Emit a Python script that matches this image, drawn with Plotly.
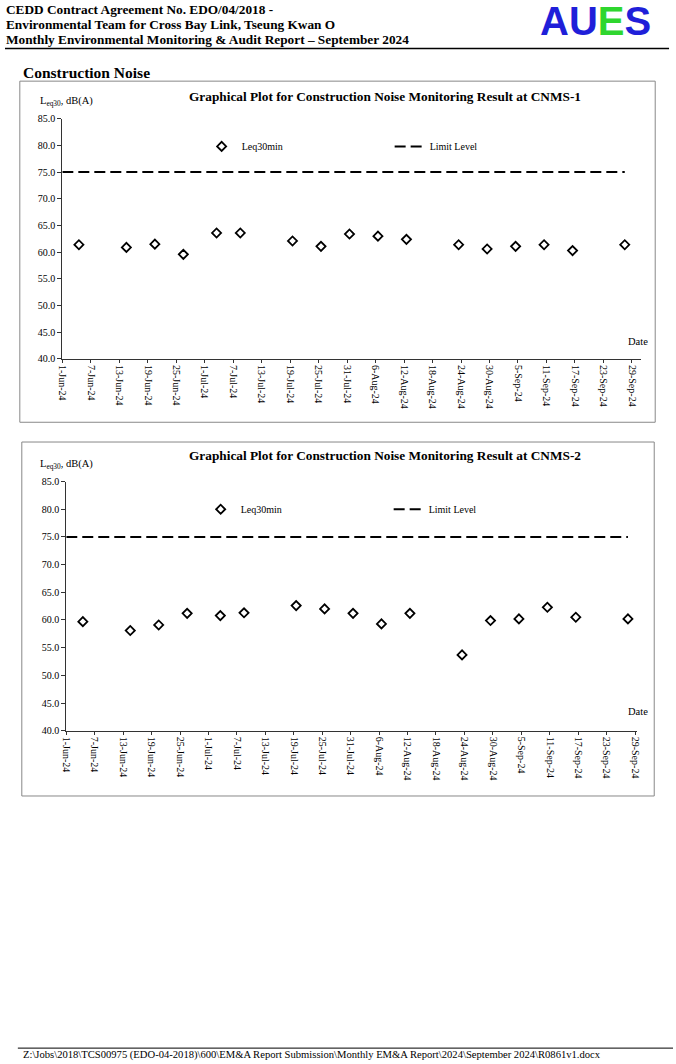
import plotly.graph_objects as go

W, H = 676, 1064

# ---------------- data ----------------
dates = ["2024-06-04 12:00", "2024-06-14 12:00", "2024-06-20 12:00", "2024-06-26 12:00",
         "2024-07-03 12:00", "2024-07-08 12:00", "2024-07-19 12:00", "2024-07-25 12:00",
         "2024-07-31 12:00", "2024-08-06 12:00", "2024-08-12 12:00", "2024-08-23 12:00",
         "2024-08-29 12:00", "2024-09-04 12:00", "2024-09-10 12:00", "2024-09-16 12:00",
         "2024-09-27 12:00"]
cnms1 = [61.4, 60.9, 61.5, 59.6, 63.6, 63.6, 62.1, 61.1, 63.4, 63.0, 62.4,
         61.4, 60.6, 61.1, 61.4, 60.3, 61.4]
cnms2 = [59.7, 58.1, 59.1, 61.2, 60.8, 61.3, 62.6, 62.0, 61.2, 59.3, 61.2,
         53.7, 59.9, 60.2, 62.3, 60.5, 60.2]
limit_dates = ["2024-06-01", "2024-09-27 12:00"]
limit_level = [75, 75]
stations = ["CNMS-1", "CNMS-2"]

SERIF = "Liberation Serif, Times New Roman, serif"

def px(x):
    return x / W

def py(y):
    return 1 - y / H

fig = go.Figure()

for i, (vals, leg) in enumerate([(cnms1, "legend"), (cnms2, "legend2")]):
    xa = "x" if i == 0 else "x2"
    ya = "y" if i == 0 else "y2"
    fig.add_trace(go.Scatter(
        x=dates, y=vals, mode="markers", name="Leq30min", legend=leg,
        xaxis=xa, yaxis=ya,
        marker=dict(symbol="diamond-open", size=7, color="black",
                    line=dict(width=1.8, color="black")),
    ))
    fig.add_trace(go.Scatter(
        x=limit_dates, y=limit_level, mode="lines", name="Limit Level", legend=leg,
        xaxis=xa, yaxis=ya,
        line=dict(color="black", width=2, dash="11px,5px"),
    ))

xcommon = dict(type="date", tick0="2024-06-01", dtick=6 * 86400000,
               tickformat="%-d-%b-%y", tickangle=90, ticks="outside", ticklen=3,
               tickcolor="#333", showline=True, linecolor="#333", linewidth=1,
               showgrid=False, zeroline=False,
               tickfont=dict(family=SERIF, size=10, color="black"))
ycommon = dict(range=[40, 85], dtick=5, tickformat=".1f", ticks="outside", ticklen=4,
               tickcolor="#333", showline=True, linecolor="#333", linewidth=1,
               showgrid=False, zeroline=False,
               tickfont=dict(family=SERIF, size=10, color="black"))

fig.update_layout(
    width=W, height=H, margin=dict(l=0, r=0, t=0, b=0),
    paper_bgcolor="white", plot_bgcolor="white",
    xaxis=dict(xcommon, domain=[px(58), px(644)], range=["2024-06-01", "2024-10-01"],
               anchor="y"),
    yaxis=dict(ycommon, domain=[py(357), py(114)], anchor="x"),
    xaxis2=dict(xcommon, domain=[px(62), px(640)],
                range=["2024-06-01", "2024-09-29 12:00"], anchor="y2"),
    yaxis2=dict(ycommon, domain=[py(733), py(481)], anchor="x2"),
    legend=dict(orientation="h", x=px(199), y=py(142), xanchor="left", yanchor="middle",
                entrywidth=143, bgcolor="rgba(0,0,0,0)",
                font=dict(family=SERIF, size=10, color="black")),
    legend2=dict(orientation="h", x=px(198), y=py(509), xanchor="left", yanchor="middle",
                 entrywidth=143, bgcolor="rgba(0,0,0,0)",
                 font=dict(family=SERIF, size=10, color="black")),
    showlegend=True,
)

ann = []
# header
header = ["CEDD Contract Agreement No. EDO/04/2018 -",
          "Environmental Team for Cross Bay Link, Tseung Kwan O",
          "Monthly Environmental Monitoring &amp; Audit Report \u2013 September 2024"]
for k, t in enumerate(header):
    ann.append(dict(text="<b>" + t + "</b>", x=0, y=py(4 + 15 * k), xref="paper",
                    yref="paper", xanchor="left", yanchor="middle", showarrow=False,
                    borderpad=0, font=dict(family=SERIF, size=13.3, color="black")))
ann.append(dict(text="<b><span style='color:#1f1fd9'>AU</span><span style='color:#2fd62f'>E</span>"
                     "<span style='color:#1f1fd9'>S</span></b>",
                x=px(598), y=py(15), xref="paper", yref="paper", xanchor="center",
                yanchor="middle", showarrow=False,
                font=dict(family="Liberation Sans, Arial, sans-serif", size=40)))
ann.append(dict(text="<b>Construction Noise</b>", x=px(16), y=py(67), xref="paper",
                yref="paper", xanchor="left", yanchor="middle", showarrow=False,
                font=dict(family=SERIF, size=15.5, color="black")))
# chart texts
for st, ty, yl, dy in [(stations[0], 92, 97, 339), (stations[1], 455, 464, 714)]:
    ann.append(dict(text="<b>Graphical Plot for Construction Noise Monitoring Result at " + st + "</b>",
                    x=px(385), y=py(ty), xref="paper", yref="paper", xanchor="center",
                    yanchor="middle", showarrow=False,
                    font=dict(family=SERIF, size=13.3, color="black")))
    ann.append(dict(text="L<sub>eq30</sub>, dB(A)", x=px(33), y=py(yl), xref="paper",
                    yref="paper", xanchor="left", yanchor="middle", showarrow=False,
                    font=dict(family=SERIF, size=10.5, color="black")))
    ann.append(dict(text="Date", x=px(641), y=py(dy), xref="paper", yref="paper",
                    xanchor="center", yanchor="middle", showarrow=False,
                    font=dict(family=SERIF, size=10.5, color="black")))
# footer
ann.append(dict(text="Z:\\Jobs\\2018\\TCS00975 (EDO-04-2018)\\600\\EM&amp;A Report Submission\\"
                     "Monthly EM&amp;A Report\\2024\\September 2024\\R0861v1.docx",
                x=px(17), y=py(1061), xref="paper", yref="paper", xanchor="left",
                yanchor="middle", showarrow=False, borderpad=0,
                font=dict(family=SERIF, size=10.6, color="black")))
fig.update_layout(annotations=ann)

shapes = [
    dict(type="line", xref="paper", yref="paper", x0=0, x1=px(672), y0=py(43), y1=py(43),
         line=dict(color="black", width=1.5)),
    dict(type="rect", xref="paper", yref="paper", x0=px(15), x1=px(658), y0=py(76), y1=py(421),
         line=dict(color="#888", width=1)),
    dict(type="rect", xref="paper", yref="paper", x0=px(17), x1=px(657), y0=py(441), y1=py(799),
         line=dict(color="#888", width=1)),
    dict(type="line", xref="paper", yref="paper", x0=px(13), x1=1, y0=py(1054), y1=py(1054),
         line=dict(color="black", width=1)),
]
fig.update_layout(shapes=shapes)

fig.write_html("out.html", config={"displayModeBar": False},
               post_script="document.body.style.margin='0';"
                           "document.body.style.overflow='hidden';"
                           "document.documentElement.style.overflow='hidden';")
